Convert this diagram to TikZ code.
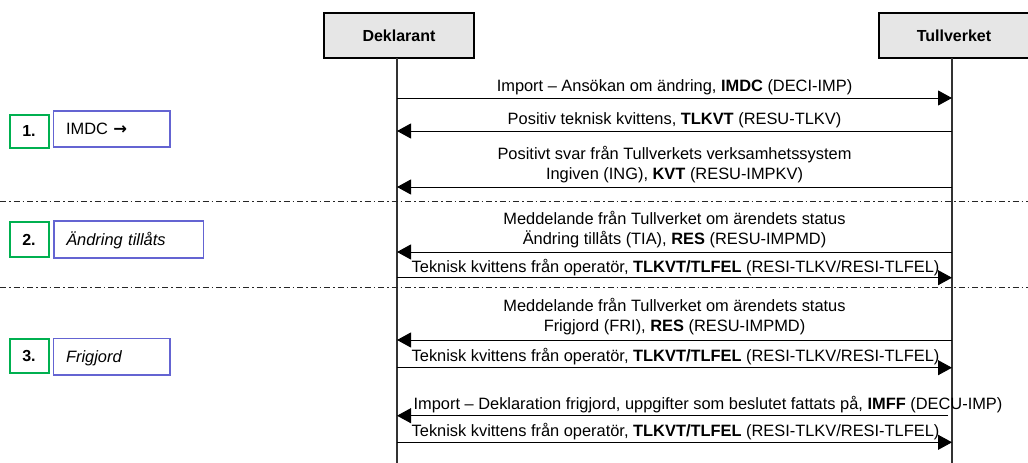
\documentclass[tikz,border=0pt]{standalone}
\usepackage{fontspec}
\setmainfont{Liberation Sans}
\newfontfamily\symfont{DejaVu Sans}
\usetikzlibrary{arrows.meta}
\definecolor{hdrgray}{RGB}{230,230,230}
\definecolor{stepgreen}{RGB}{0,176,80}
\definecolor{stepblue}{RGB}{100,100,210}
\begin{document}
\begin{tikzpicture}[x=1pt,y=-1pt,
  font=\fontsize{16.4}{20}\selectfont,
  hdr/.style={draw=black, line width=2pt, fill=hdrgray, minimum width=150, minimum height=45, inner sep=0, font=\fontsize{16}{20}\selectfont\bfseries},
  lifeline/.style={draw=black!80, line width=1.1pt},
  msg/.style={draw=black, line width=1pt, -{Triangle[length=14pt,width=15pt]}},
  lbl/.style={anchor=base, inner sep=0},
  sep/.style={draw=black!85, line width=0.9pt, dash pattern=on 6pt off 3pt on 1.5pt off 3pt},
  numbox/.style={draw=stepgreen, line width=2pt, minimum width=39, minimum height=33.5, inner sep=0, font=\fontsize{16}{20}\selectfont\bfseries},
  namebox/.style={draw=stepblue, line width=1.5pt, inner xsep=12.5, inner ysep=0, align=left, text height=11.7, text depth=0}
]
\useasboundingbox (0,0) rectangle (1028,463);

% headers
\node[hdr] (dek) at (399,35.5) {Deklarant};
\node[hdr] (tull) at (954,35.5) {Tullverket};

% lifelines
\coordinate (d0) at (397,58);
\coordinate (dN) at (397,463);
\coordinate (t0) at (952,58);
\coordinate (tN) at (952,463);
\draw[lifeline] (d0) -- (dN);
\draw[lifeline] (t0) -- (tN);

% separators
\coordinate (s1a) at (0,201);
\coordinate (s1b) at (1028,201);
\coordinate (s2a) at (0,287);
\coordinate (s2b) at (1028,287);
\draw[sep] (s1a) -- (s1b);
\draw[sep] (s2a) -- (s2b);

% step boxes
\node[numbox] (n1) at (29,131.3) {1.};
\node[namebox, minimum height=36, text width=116.5-25] (b1) at (111.8,129) {IMDC {\symfont\bfseries →}};
\node[numbox, minimum height=35] (n2) at (29,239.6) {2.};
\node[namebox, minimum height=37, text width=149.5-25] (b2) at (128.5,239.5) {\itshape Ändring tillåts};
\node[numbox] (n3) at (29,356) {3.};
\node[namebox, minimum height=36.7, text width=116.5-25] (b3) at (111.8,356.7) {\itshape Frigjord};

% message anchor points
\coordinate (d1) at (397,98);    \coordinate (t1) at (952,98);
\coordinate (d2) at (397,131);   \coordinate (t2) at (952,131);
\coordinate (d3) at (397,187);   \coordinate (t3) at (952,187);
\coordinate (d4) at (397,252);   \coordinate (t4) at (952,252);
\coordinate (d5) at (397,277.7); \coordinate (t5) at (952,277.7);
\coordinate (d6) at (397,340);   \coordinate (t6) at (952,340);
\coordinate (d7) at (397,367.7); \coordinate (t7) at (952,367.7);
\coordinate (d8) at (397,415.7); \coordinate (t8) at (948,415.7);
\coordinate (d9) at (397,442.3); \coordinate (t9) at (952,442.3);

\draw[msg] (d1) -- (t1);
\draw[msg] (t2) -- (d2);
\draw[msg] (t3) -- (d3);
\draw[msg] (t4) -- (d4);
\draw[msg] (d5) -- (t5);
\draw[msg] (t6) -- (d6);
\draw[msg] (d7) -- (t7);
\draw[msg] (t8) -- (d8);
\draw[msg] (d9) -- (t9);

% labels
\node[lbl] (l1) at (674.5,91.5) {Import – Ansökan om ändring, \textbf{IMDC} (DECI-IMP)};
\node[lbl] (l2) at (674.5,124.5) {Positiv teknisk kvittens, \textbf{TLKVT} (RESU-TLKV)};
\node[lbl] (l3a) at (674.5,159.5) {Positivt svar från Tullverkets verksamhetssystem};
\node[lbl] (l3b) at (674.5,179.5) {Ingiven (ING), \textbf{KVT} (RESU-IMPKV)};
\node[lbl] (l4a) at (674.5,224.5) {Meddelande från Tullverket om ärendets status};
\node[lbl] (l4b) at (674.5,244.5) {Ändring tillåts (TIA), \textbf{RES} (RESU-IMPMD)};
\node[lbl] (l5) at (675.5,272) {Teknisk kvittens från operatör, \textbf{TLKVT/TLFEL} (RESI-TLKV/RESI-TLFEL)};
\node[lbl] (l6a) at (674.5,311.5) {Meddelande från Tullverket om ärendets status};
\node[lbl] (l6b) at (674.5,331.5) {Frigjord (FRI), \textbf{RES} (RESU-IMPMD)};
\node[lbl] (l7) at (675.5,361.5) {Teknisk kvittens från operatör, \textbf{TLKVT/TLFEL} (RESI-TLKV/RESI-TLFEL)};
\node[lbl] (l8) at (708,409.5) {Import – Deklaration frigjord, uppgifter som beslutet fattats på, \textbf{IMFF} (DECU-IMP)};
\node[lbl] (l9) at (675.5,436) {Teknisk kvittens från operatör, \textbf{TLKVT/TLFEL} (RESI-TLKV/RESI-TLFEL)};
\end{tikzpicture}
\end{document}
